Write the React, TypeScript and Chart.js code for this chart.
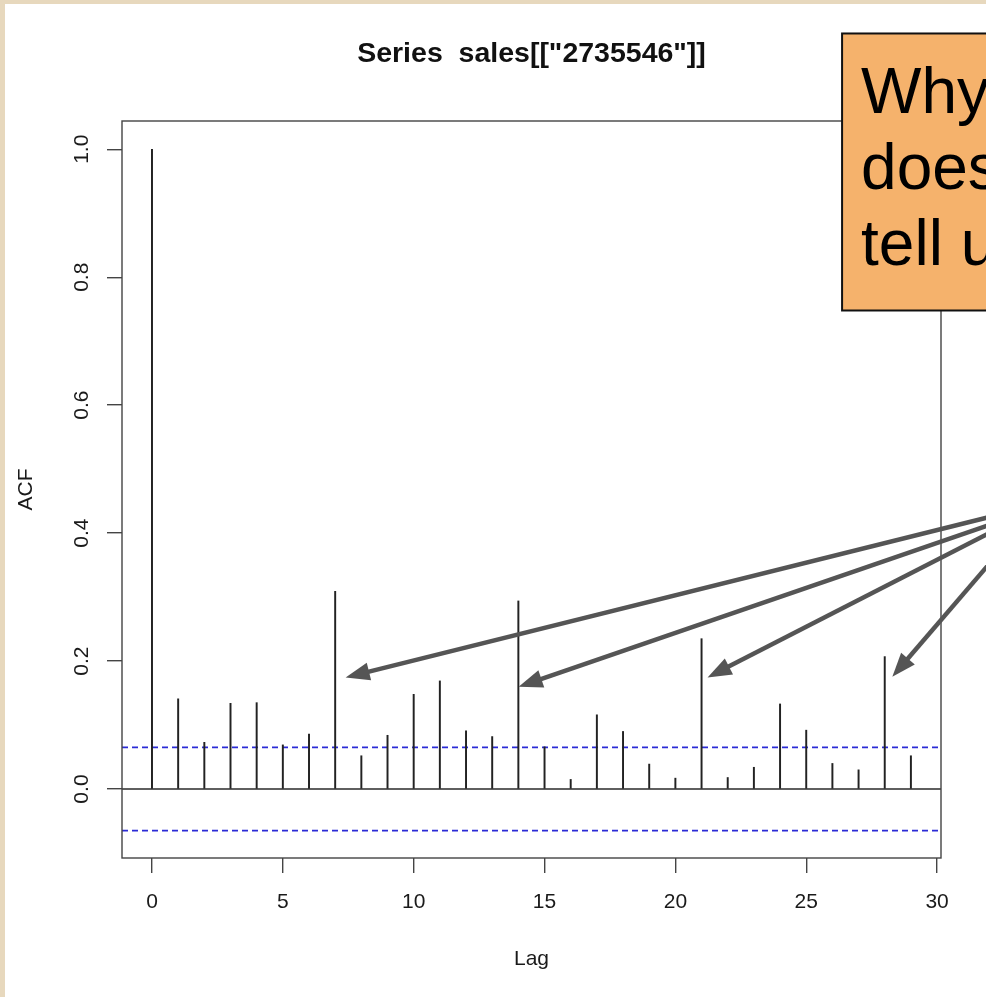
import React, { useEffect, useRef } from "react";
import { Chart, registerables } from "chart.js";

Chart.register(...registerables);

// Autocorrelation of the sales series, lags 0..29
const lags = [0, 1, 2, 3, 4, 5, 6, 7, 8, 9, 10, 11, 12, 13, 14, 15, 16, 17, 18, 19, 20, 21, 22, 23, 24, 25, 26, 27, 28, 29];
const acfValues = [
  1.0, 0.141, 0.073, 0.134, 0.135, 0.069, 0.086, 0.309, 0.052, 0.084,
  0.148, 0.169, 0.091, 0.082, 0.294, 0.066, 0.015, 0.116, 0.09, 0.039,
  0.017, 0.235, 0.018, 0.034, 0.133, 0.092, 0.04, 0.03, 0.207, 0.052,
];
const confBound = 0.065;

const xTicks = [0, 5, 10, 15, 20, 25, 30];
const yTicks = [0, 0.2, 0.4, 0.6, 0.8, 1.0];
const xLimits = [-1.146, 30.15];
const yLimits = [-0.1078, 1.0442];

const titleText = 'Series  sales[["2735546"]]';
const xTitle = "Lag";
const yTitle = "ACF";

// Callout note (in data units of the plot) and its lines of text
const calloutLeftLag = 26.37;
const calloutTopAcf = 1.181;
const calloutBottomAcf = 0.748;
const calloutLines = ["Why", "does", "tell us"];

// Arrows from the callout towards the weekly peaks
const arrowTipLag = [7.4, 14.01, 21.23, 28.29];
const arrowTipAcf = [0.1745, 0.16, 0.1745, 0.1755];
const arrowTailLag = [32.37, 32.37, 32.37, 32.37];
const arrowTailAcf = [0.429, 0.418, 0.408, 0.37];

const FONT = '"Liberation Sans", Arial, Helvetica, sans-serif';
const INK = "#1a1a1a";
const AXIS = "#444444";

const slidePlugin = {
  id: "slide",
  beforeDraw(chart: any) {
    const { ctx, width, height } = chart;
    ctx.save();
    ctx.fillStyle = "#ffffff";
    ctx.fillRect(0, 0, width, height);
    ctx.fillStyle = "#e7d8bd";
    ctx.fillRect(0, 0, 5, height);
    ctx.fillRect(0, 0, width, 4);
    ctx.restore();
  },
  afterDatasetsDraw(chart: any) {
    const { ctx, chartArea } = chart;
    ctx.save();
    ctx.strokeStyle = AXIS;
    ctx.lineWidth = 1.4;
    ctx.strokeRect(chartArea.left, chartArea.top, chartArea.right - chartArea.left, chartArea.bottom - chartArea.top);
    ctx.restore();
  },
  afterDraw(chart: any) {
    const { ctx, scales } = chart;
    const xs = scales.x;
    const ys = scales.y;

    // callout box
    const bx = xs.getPixelForValue(calloutLeftLag);
    const by = ys.getPixelForValue(calloutTopAcf);
    const bb = ys.getPixelForValue(calloutBottomAcf);
    ctx.save();
    ctx.fillStyle = "#f5b26c";
    ctx.strokeStyle = "#111111";
    ctx.lineWidth = 2;
    ctx.fillRect(bx, by, chart.width - bx + 20, bb - by);
    ctx.strokeRect(bx, by, chart.width - bx + 20, bb - by);
    ctx.fillStyle = "#000000";
    ctx.font = `64px ${FONT}`;
    ctx.textBaseline = "alphabetic";
    ctx.textAlign = "left";
    calloutLines.forEach((line, i) => {
      ctx.fillText(line, bx + 19, by + 80 + i * 76);
    });
    ctx.restore();

    // arrows
    ctx.save();
    ctx.strokeStyle = "#555555";
    ctx.fillStyle = "#555555";
    ctx.lineWidth = 4.5;
    ctx.lineCap = "butt";
    const headLen = 24;
    const headHalf = 9;
    arrowTipLag.forEach((lag, i) => {
      const tx = xs.getPixelForValue(lag);
      const ty = ys.getPixelForValue(arrowTipAcf[i]);
      const sx = xs.getPixelForValue(arrowTailLag[i]);
      const sy = ys.getPixelForValue(arrowTailAcf[i]);
      const len = Math.hypot(tx - sx, ty - sy);
      const ux = (tx - sx) / len;
      const uy = (ty - sy) / len;
      const baseX = tx - ux * headLen;
      const baseY = ty - uy * headLen;
      ctx.beginPath();
      ctx.moveTo(sx, sy);
      ctx.lineTo(baseX + ux * 2, baseY + uy * 2);
      ctx.stroke();
      ctx.beginPath();
      ctx.moveTo(tx, ty);
      ctx.lineTo(baseX - uy * headHalf, baseY + ux * headHalf);
      ctx.lineTo(baseX + uy * headHalf, baseY - ux * headHalf);
      ctx.closePath();
      ctx.fill();
    });
    ctx.restore();
  },
};

export default function App() {
  const canvasRef = useRef<HTMLCanvasElement | null>(null);

  useEffect(() => {
    document.body.style.margin = "0";
    const canvas = canvasRef.current;
    if (!canvas) return;

    const tickFont = { family: FONT, size: 21 };

    const chart = new Chart(canvas, {
      type: "bar",
      data: {
        datasets: [
          {
            type: "bar",
            data: lags.map((lag, i) => ({ x: lag, y: acfValues[i] })),
            backgroundColor: "#222222",
            barThickness: 1.3,
            borderWidth: 0,
          },
          {
            type: "line",
            data: [
              { x: xLimits[0], y: 0 },
              { x: xLimits[1], y: 0 },
            ],
            borderColor: "#2a2a2a",
            borderWidth: 1.5,
            pointRadius: 0,
          },
          {
            type: "line",
            data: [
              { x: xLimits[0], y: confBound },
              { x: xLimits[1], y: confBound },
            ],
            borderColor: "#2b2bd6",
            borderWidth: 1.7,
            borderDash: [6, 4],
            pointRadius: 0,
          },
          {
            type: "line",
            data: [
              { x: xLimits[0], y: -confBound },
              { x: xLimits[1], y: -confBound },
            ],
            borderColor: "#2b2bd6",
            borderWidth: 1.7,
            borderDash: [6, 4],
            pointRadius: 0,
          },
        ] as any,
      },
      options: {
        animation: false,
        responsive: false,
        devicePixelRatio: 1,
        layout: { padding: { left: 0, right: 45, top: 0, bottom: 0 } },
        plugins: {
          legend: { display: false },
          tooltip: { enabled: false },
          title: {
            display: true,
            text: titleText,
            fullSize: false,
            color: "#111111",
            font: { family: FONT, size: 28.5, weight: "bold" },
            padding: { top: 36.9, bottom: 49.9 },
          },
        },
        scales: {
          x: {
            type: "linear",
            offset: false,
            min: xLimits[0],
            max: xLimits[1],
            afterBuildTicks: (s: any) => {
              s.ticks = xTicks.map((v) => ({ value: v }));
            },
            afterFit: (s: any) => {
              s.height = 139;
            },
            ticks: {
              autoSkip: false,
              maxRotation: 0,
              minRotation: 0,
              padding: 17,
              color: INK,
              font: tickFont,
              callback: (v: any) => String(v),
            },
            grid: {
              display: true,
              offset: false,
              drawOnChartArea: false,
              drawTicks: true,
              tickLength: 15,
              color: AXIS,
              lineWidth: 1.4,
            },
            border: { display: false },
            title: {
              display: true,
              text: xTitle,
              color: INK,
              font: tickFont,
              padding: { top: 0, bottom: 25 },
            },
          },
          y: {
            type: "linear",
            min: yLimits[0],
            max: yLimits[1],
            afterBuildTicks: (s: any) => {
              s.ticks = yTicks.map((v) => ({ value: v }));
            },
            afterFit: (s: any) => {
              s.width = 122;
            },
            ticks: {
              autoSkip: false,
              minRotation: 90,
              maxRotation: 90,
              crossAlign: "center",
              padding: 10,
              color: INK,
              font: tickFont,
              callback: (v: any) => Number(v).toFixed(1),
            },
            grid: {
              display: true,
              drawOnChartArea: false,
              drawTicks: true,
              tickLength: 15,
              color: AXIS,
              lineWidth: 1.4,
            },
            border: { display: false },
            title: {
              display: true,
              text: yTitle,
              color: INK,
              font: tickFont,
              padding: { top: 14, bottom: 0 },
            },
          },
        },
      } as any,
      plugins: [slidePlugin],
    });

    return () => chart.destroy();
  }, []);

  return (
    <div style={{ position: "absolute", left: 0, top: 0, width: 986, height: 997, overflow: "hidden" }}>
      <canvas ref={canvasRef} width={986} height={997} style={{ display: "block" }} />
    </div>
  );
}
